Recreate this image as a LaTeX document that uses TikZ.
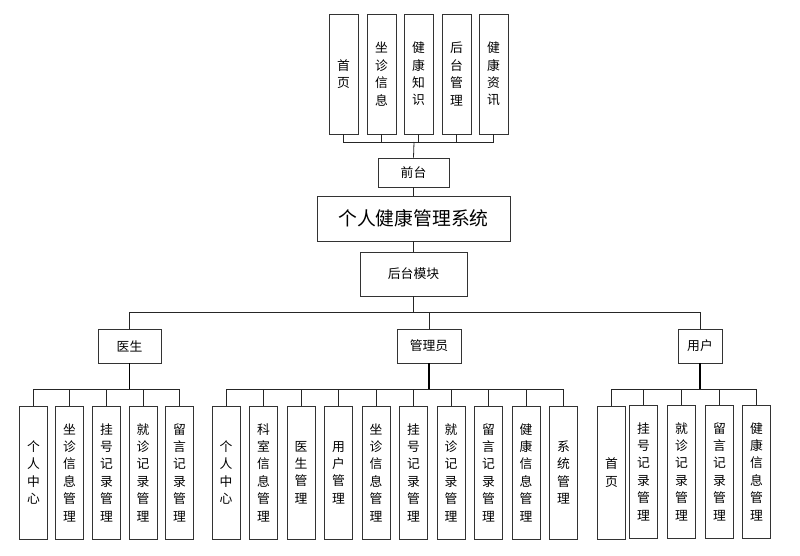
\documentclass[tikz,border=0pt]{standalone}
\usepackage{fontspec}
\setmainfont{Noto Sans CJK SC}
\begin{document}
\begin{tikzpicture}[x=1pt,y=-1pt,
  box/.style={draw=black!80,line width=0.9pt,inner sep=0pt,align=center,font=\fontsize{12.8}{17.4}\selectfont},
  topbox/.style={box,minimum width=29,minimum height=120},
  botbox/.style={box,minimum width=28,minimum height=133},
  hbox/.style={box},
  conn/.style={draw=black!85,line width=0.8pt},
  thick conn/.style={draw=black,line width=1.5pt}]
\useasboundingbox (0,0) rectangle (800,555);
% top boxes
\node[topbox] (t1) at (343.5,74) {首\\页};
\node[topbox] (t2) at (381.5,74) {坐\\诊\\信\\息};
\node[topbox] (t3) at (418.5,74) {健\\康\\知\\识};
\node[topbox] (t4) at (456.5,74) {后\\台\\管\\理};
\node[topbox] (t5) at (493.5,74) {健\\康\\资\\讯};
\node[hbox,minimum width=71,minimum height=29] (qt) at (413.5,172.5) {前台};
\node[hbox,minimum width=193,minimum height=45,font=\fontsize{18.8}{20}\selectfont] (main) at (413.5,218.5) {个人健康管理系统};
\node[hbox,minimum width=107,minimum height=44] (hm) at (413.5,274) {后台模块};
\coordinate (b1) at (414,142);
\foreach \i in {1,...,5} {\draw[conn] (t\i.south) |- (b1);}
\draw[conn] (b1) -- (qt.north);
\draw[conn] (qt.south) -- (main.north);
\draw[conn] (main.south) -- (hm.north);
% groups
\node[hbox,minimum width=63,minimum height=34] (doc) at (129.5,346) {医生};
\node[hbox,minimum width=64,minimum height=34] (adm) at (429,346) {管理员};
\node[hbox,minimum width=44,minimum height=34] (usr) at (700,346) {用户};
\coordinate (b2) at (413.5,312);
\draw[conn] (hm.south) -- (b2);
\draw[conn] (b2) -| (doc.north);
\draw[conn] (b2) -| (adm.north);
\draw[conn] (b2) -| (usr.north);
% doctor children
\node[botbox] (d1) at (33.5,472.5) {个\\人\\中\\心};
\node[botbox] (d2) at (69.5,472.5) {坐\\诊\\信\\息\\管\\理};
\node[botbox] (d3) at (106.5,472.5) {挂\\号\\记\\录\\管\\理};
\node[botbox] (d4) at (143,472.5) {就\\诊\\记\\录\\管\\理};
\node[botbox] (d5) at (179.5,472.5) {留\\言\\记\\录\\管\\理};
\coordinate (db) at (129.5,389);
\draw[thick conn] (doc.south) -- (db);
\foreach \i in {1,...,5} {\draw[conn] (db) -| (d\i.north);}
% admin children
\node[botbox] (a1) at (226,472.5) {个\\人\\中\\心};
\node[botbox] (a2) at (263.5,472.5) {科\\室\\信\\息\\管\\理};
\node[botbox] (a3) at (301,472.5) {医\\生\\管\\理};
\node[botbox] (a4) at (338.5,472.5) {用\\户\\管\\理};
\node[botbox] (a5) at (376,472.5) {坐\\诊\\信\\息\\管\\理};
\node[botbox] (a6) at (413.5,472.5) {挂\\号\\记\\录\\管\\理};
\node[botbox] (a7) at (451,472.5) {就\\诊\\记\\录\\管\\理};
\node[botbox] (a8) at (488.5,472.5) {留\\言\\记\\录\\管\\理};
\node[botbox] (a9) at (526,472.5) {健\\康\\信\\息\\管\\理};
\node[botbox] (a10) at (563.5,472.5) {系\\统\\管\\理};
\coordinate (ab) at (429,389);
\draw[thick conn] (adm.south) -- (ab);
\foreach \i in {1,...,10} {\draw[conn] (ab) -| (a\i.north);}
% user children
\node[botbox] (u1) at (611.5,472.5) {首\\页};
\node[botbox] (u2) at (643.5,471.5) {挂\\号\\记\\录\\管\\理};
\node[botbox] (u3) at (681.5,471.5) {就\\诊\\记\\录\\管\\理};
\node[botbox] (u4) at (719.5,471.5) {留\\言\\记\\录\\管\\理};
\node[botbox] (u5) at (756.5,471.5) {健\\康\\信\\息\\管\\理};
\coordinate (ub) at (700,389);
\draw[thick conn] (usr.south) -- (ub);
\foreach \i in {1,...,5} {\draw[conn] (ub) -| (u\i.north);}
\end{tikzpicture}
\end{document}
